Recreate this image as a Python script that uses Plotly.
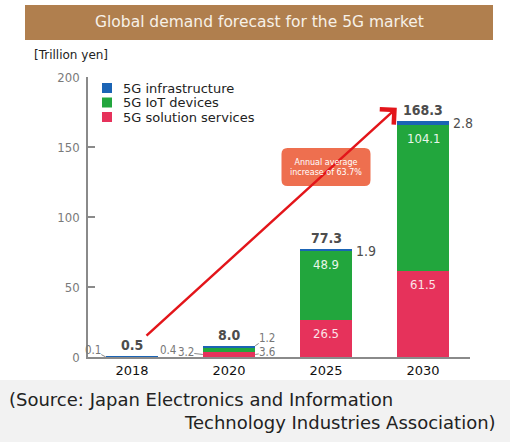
import plotly.graph_objects as go

# ---------------- data ----------------
years = ["2018", "2020", "2025", "2030"]
infrastructure = [0.4, 1.2, 1.9, 2.8]
iot_devices = [0.1, 3.2, 48.9, 104.1]
solution_services = [0.0, 3.6, 26.5, 61.5]
totals = [0.5, 8.0, 77.3, 168.3]
y_ticks = [0, 50, 100, 150, 200]
series_names = ["5G infrastructure", "5G IoT devices", "5G solution services"]
growth_text = "Annual average<br>increase of 63.7%"
title_text = "Global demand forecast for the 5G market"
unit_text = "[Trillion yen]"
source_line1 = "(Source: Japan Electronics and Information"
source_line2 = "Technology Industries Association)"

# ---------------- style ----------------
W, H = 510, 442
L, R, T, B = 88, 40, 77, 85
PW, PH = W - L - R, H - T - B
C_BLUE, C_GREEN, C_RED = "#1b64b5", "#22a63d", "#e6325b"
AXIS = "#8a8a8a"
LBL = "#4d4d4d"
SMALL = "#777777"
NUM_FONT = "DejaVu Sans Condensed, Liberation Sans Narrow, sans-serif"
NUM_BOLD = "DejaVu Sans Condensed, sans-serif"
TXT_FONT = "DejaVu Sans, Verdana, sans-serif"
BW = 0.54
xs = list(range(len(years)))
colors = [C_BLUE, C_GREEN, C_RED]


def pap(xp, yp):
    return (xp - L) / PW, (H - B - yp) / PH


fig = go.Figure()
fig.add_trace(go.Bar(x=xs, y=solution_services, name=series_names[2], showlegend=False,
                     marker=dict(color=C_RED, line=dict(width=0)), width=BW))
fig.add_trace(go.Bar(x=xs, y=iot_devices, name=series_names[1], showlegend=False,
                     marker=dict(color=C_GREEN, line=dict(width=0)), width=BW))
fig.add_trace(go.Bar(x=xs, y=infrastructure, name=series_names[0], showlegend=False,
                     marker=dict(color=C_BLUE, line=dict(width=0)), width=BW))

ann = []
shapes = []

# background bands (title bar, footer)
fx0, fy0 = pap(0, 380)
fx1, fy1 = pap(W, H)
shapes.append(dict(type="rect", xref="paper", yref="paper", x0=fx0, x1=fx1, y0=fy0, y1=fy1,
                   fillcolor="#f2f2f2", line=dict(width=0), layer="below"))
tx0, ty0 = pap(25, 5)
tx1, ty1 = pap(493, 40)
shapes.append(dict(type="rect", xref="paper", yref="paper", x0=tx0, x1=tx1, y0=ty0, y1=ty1,
                   fillcolor="#b07f4e", line=dict(width=0), layer="below"))
cx, cy = pap(259, 22)
ann.append(dict(text=title_text, xref="paper", yref="paper", x=cx, y=cy, showarrow=False,
                xanchor="center", yanchor="middle", font=dict(family=TXT_FONT, size=15.5, color="#f7f1e8")))
ux, uy = pap(32, 55)
ann.append(dict(text=unit_text, xref="paper", yref="paper", x=ux, y=uy, showarrow=False,
                xanchor="left", yanchor="middle", font=dict(family=TXT_FONT, size=12, color="#222")))
s1x, s1y = pap(7, 399)
ann.append(dict(text=source_line1, xref="paper", yref="paper", x=s1x, y=s1y, showarrow=False,
                xanchor="left", yanchor="middle", font=dict(family=TXT_FONT, size=18, color="#222")))
s2x, s2y = pap(498, 422)
ann.append(dict(text=source_line2, xref="paper", yref="paper", x=s2x, y=s2y, showarrow=False,
                xanchor="right", yanchor="middle", font=dict(family=TXT_FONT, size=18, color="#222")))

# manual legend (tight rows like the reference)
for k, (nm, col) in enumerate(zip(series_names, colors)):
    yc = 88 + k * 14.5
    lx0, ly0 = pap(102, yc - 5)
    lx1, ly1 = pap(112, yc + 5)
    shapes.append(dict(type="rect", xref="paper", yref="paper", x0=lx0, x1=lx1, y0=ly0, y1=ly1,
                       fillcolor=col, line=dict(width=0)))
    tx, ty = pap(121, yc)
    ann.append(dict(text=nm, xref="paper", yref="paper", x=tx, y=ty, showarrow=False,
                    xanchor="left", yanchor="middle", font=dict(family=TXT_FONT, size=13, color="#222")))

# totals above bars
for i, t in enumerate(totals):
    ann.append(dict(text=f"<b>{t:.1f}</b>", x=xs[i], y=t, showarrow=False, yanchor="bottom", yshift=1,
                    font=dict(family=NUM_BOLD, size=14, color=LBL)))

# inside labels (2025, 2030)
for i in (2, 3):
    ann.append(dict(text=f"{iot_devices[i]:.1f}", x=xs[i], y=solution_services[i] + iot_devices[i],
                    showarrow=False, yanchor="top", yshift=-4,
                    font=dict(family=NUM_FONT, size=13, color="#e9f6ea")))
    ann.append(dict(text=f"{solution_services[i]:.1f}", x=xs[i], y=solution_services[i],
                    showarrow=False, yanchor="top", yshift=-4,
                    font=dict(family=NUM_FONT, size=13, color="#fbe3e8")))
    ann.append(dict(text=f"{infrastructure[i]:.1f}", x=xs[i] + BW / 2, y=totals[i],
                    showarrow=False, xanchor="left", xshift=2, yshift=-2,
                    font=dict(family=NUM_FONT, size=14, color=LBL)))

leader = dict(showarrow=True, arrowhead=0, arrowwidth=1, arrowcolor="#8a8a8a", standoff=0,
              font=dict(family=NUM_FONT, size=11.5, color=SMALL), borderpad=0)
# 2020 small labels
ann.append(dict(text=f"{infrastructure[1]:.1f}", x=xs[1] + BW / 2, y=totals[1], ax=12, ay=-8, **leader))
ann.append(dict(text=f"{solution_services[1]:.1f}", x=xs[1] + BW / 2, y=solution_services[1] / 2,
                ax=12, ay=-2, **leader))
ann.append(dict(text=f"{iot_devices[1]:.1f}", x=xs[1] - BW / 2, y=solution_services[1] / 2,
                ax=-17, ay=-2, **leader))
# 2018 small labels
ann.append(dict(text=f"{iot_devices[0]:.1f}", x=xs[0] - BW / 2, y=0, ax=-13, ay=-7, **leader))
ann.append(dict(text=f"{infrastructure[0]:.1f}", x=xs[0] + BW / 2, y=totals[0], showarrow=False,
                xanchor="left", xshift=0, yshift=6, font=dict(family=NUM_FONT, size=11.5, color=SMALL)))

# growth arrow
ann.append(dict(text="", x=2.73, y=178, ax=0.134, ay=14.3, axref="x", ayref="y", xref="x", yref="y",
                showarrow=True, arrowhead=4, arrowsize=1.6, arrowwidth=2.5, arrowcolor="#e3151a",
                standoff=0, startstandoff=0))

# callout box (rounded)
bx, by = 2.0, 135.7
hw, hh, r = 44.5, 19, 6
path = (f"M {-hw + r},{-hh} L {hw - r},{-hh} Q {hw},{-hh} {hw},{-hh + r} L {hw},{hh - r} "
        f"Q {hw},{hh} {hw - r},{hh} L {-hw + r},{hh} Q {-hw},{hh} {-hw},{hh - r} "
        f"L {-hw},{-hh + r} Q {-hw},{-hh} {-hw + r},{-hh} Z")
shapes.append(dict(type="path", xref="x", yref="y", xsizemode="pixel", ysizemode="pixel",
                   xanchor=bx, yanchor=by, path=path, fillcolor="#ee6f4f", line=dict(width=0)))
ann.append(dict(text=growth_text, x=bx, y=by, showarrow=False, xanchor="center", yanchor="middle",
                font=dict(family=TXT_FONT, size=8, color="white")))

fig.update_layout(
    width=W, height=H, margin=dict(l=L, r=R, t=T, b=B),
    paper_bgcolor="white", plot_bgcolor="white",
    barmode="stack", bargap=0,
    showlegend=False,
    xaxis=dict(range=[(88 - 132) / 97, (470 - 132) / 97], tickvals=xs, ticktext=years,
               showgrid=False, zeroline=False, showline=True, linecolor=AXIS, linewidth=1.5,
               ticks="", ticklabelstandoff=1,
               tickfont=dict(family=TXT_FONT, size=13, color="#111"), fixedrange=True),
    yaxis=dict(range=[0, 200], tickvals=y_ticks, showgrid=False, zeroline=False, showline=True,
               linecolor=AXIS, linewidth=1.5, ticks="inside", ticklen=7, tickcolor=AXIS,
               tickwidth=1.5, ticklabelstandoff=4,
               tickfont=dict(family=NUM_BOLD, size=13, color="#7a7a7a"), fixedrange=True),
    annotations=ann, shapes=shapes,
)

fig.write_html("out.html")
